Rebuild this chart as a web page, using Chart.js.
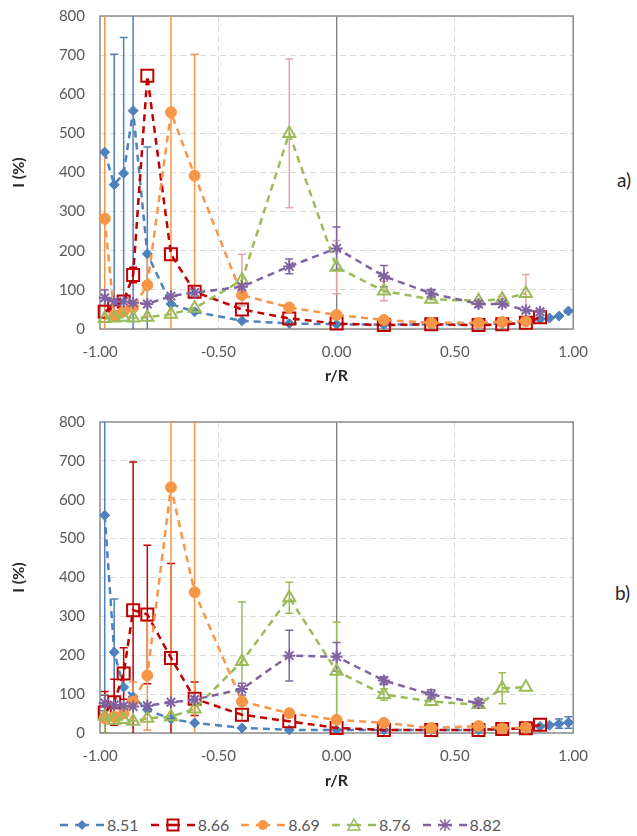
<!DOCTYPE html>
<html lang="en">
<head>
<meta charset="UTF-8">
<title>I (%) vs r/R</title>
<script src="https://cdn.jsdelivr.net/npm/chart.js"></script>
<style>
  body { margin: 0; width: 637px; height: 836px; background: #fff; position: relative; overflow: hidden; font-family: Lato, "Open Sans", sans-serif; }
  .box { position: absolute; left: 0; width: 590px; }
  .tag { position: absolute; font-size: 19px; color: #262626; }
  #legend { position: absolute; left: 60px; top: 815px; display: flex; align-items: center; font-size: 16px; color: #595959; }
  #legend .item { display: flex; align-items: center; margin-right: 12px; }
  #legend svg { margin-right: 3px; }
</style>
</head>
<body>
<div class="box" style="top:0;height:395px"><canvas id="chartA"></canvas></div>
<div class="box" style="top:400px;height:400px"><canvas id="chartB"></canvas></div>
<div class="tag" style="left:617px;top:168px">a)</div>
<div class="tag" style="left:615px;top:581px">b)</div>
<div id="legend"></div>

<script>
// radial positions, shared by all series
const xPos = [-0.98, -0.94, -0.9, -0.86, -0.8, -0.7, -0.6, -0.4, -0.2, 0, 0.2, 0.4, 0.6, 0.7, 0.8, 0.86, 0.9, 0.94, 0.98];
const seriesNames = ['8.51', '8.66', '8.69', '8.76', '8.82'];
const xTicks = [-1, -0.5, 0, 0.5, 1];
const yTicks = [0, 100, 200, 300, 400, 500, 600, 700, 800];

// panel a)
const a851 = [452, 369, 398, 558, 192, 64, 44, 21, 14, 12, 11, 12, 12, 14, 18, 25, 28, 33, 46];
const a866 = [44, 60, 70, 138, 647, 191, 95, 50, 27, 14, 10, 12, 10, 12, 16, 30, null, null, null];
const a869 = [282, 35, 45, 55, 112, 554, 392, 87, 55, 36, 23, 16, 16, 18, 20, null, null, null, null];
const a876 = [27, 28, 30, 28, 30, 38, 53, 125, 500, 158, 97, 76, 72, 76, 91, null, null, null, null];
const a882 = [80, 70, 70, 67, 64, 84, 93, 108, 160, 206, 135, 91, 64, 64, 48, 44, null, null, null];
// error bars (+/-), panel a)
const a851Err = [null, 333, 347, 600, 273, null, null, null, null, null, null, null, null, null, null, null, null, null, null];
const a866Err = [null, null, null, 20, null, null, null, null, null, null, null, null, null, null, null, null, null, null, null];
const a869Err = [600, null, null, null, 80, 600, 310, null, null, null, null, null, null, null, null, null, null, null, null];
const a876Err = [null, null, null, null, null, null, null, 66, 190, 68, 25, null, null, 8, 48, null, null, null, null];
const a882Err = [20, null, null, null, null, null, null, null, 19, 55, 27, 10, 8, null, null, null, null, null, null];

// panel b)
const b851 = [560, 208, 118, 93, 60, 36, 26, 13, 8, 8, 8, 8, 8, 10, 12, 17, 20, 24, 27];
const b866 = [53, 79, 153, 316, 305, 193, 88, 47, 30, 13, 8, 8, 8, 10, 12, 21, null, null, null];
const b869 = [38, 42, 50, 81, 148, 632, 362, 81, 51, 34, 26, 13, 18, 12, 14, null, null, null, null];
const b876 = [43, 33, 35, 30, 38, 42, 62, 184, 348, 159, 99, 81, 73, 115, 118, null, null, null, null];
const b882 = [77, 72, 70, 68, 70, 79, 86, 113, 199, 196, 135, 99, 77, null, null, null, null, null, null];
// error bars (+/-), panel b)
const b851Err = [600, 137, null, null, null, null, null, null, null, null, null, null, null, null, null, null, null, 12, 15];
const b866Err = [54, 59, 66, 381, 178, 243, 43, null, null, null, null, null, null, null, null, null, null, null, null];
const b869Err = [null, null, null, 50, 140, 600, 600, null, null, null, null, null, null, null, null, null, null, null, null];
const b876Err = [55, null, null, null, null, null, null, 153, 40, 126, 15, null, null, 40, null, null, null, null, null];
const b882Err = [20, null, null, null, null, null, null, 15, 65, 37, 10, 12, 12, null, null, null, null, null, null];

const seriesStyles = [
  { color: '#4f81bd', point: 'rectRot', radius: 5, fill: true },
  { color: '#c00000', point: 'rect', radius: 8.5, fill: false },
  { color: '#f79646', point: 'circle', radius: 5.5, fill: true },
  { color: '#9bbb59', point: 'triangle', radius: 7, fill: false },
  { color: '#8064a2', point: 'star', radius: 6, fill: false }
];
const errColorsA = ['#4f81bd', '#c00000', '#f79646', '#e6a3aa', '#8064a2'];
const errColorsB = ['#4f81bd', '#c00000', '#f79646', '#9bbb59', '#8064a2'];

Chart.defaults.font.family = 'Lato, "Open Sans", sans-serif';
Chart.defaults.color = '#595959';

function buildDatasets(values, errors, errColors) {
  return values.map((vals, s) => {
    const st = seriesStyles[s];
    return {
      label: seriesNames[s],
      data: xPos.map((x, i) => ({ x: x, y: vals[i], e: errors[s][i] })).filter(p => p.y !== null),
      borderColor: st.color,
      borderWidth: 2.5,
      borderDash: [7, 5],
      pointStyle: st.point,
      pointRadius: st.radius,
      pointBorderColor: st.color,
      pointBackgroundColor: st.fill ? st.color : 'rgba(255,255,255,0)',
      pointBorderWidth: st.fill ? 1 : 2,
      errColor: errColors[s],
      tension: 0,
      clip: false,
      order: 4 - s
    };
  });
}

// frame + error bars, drawn with the chart's own scales
const errorBars = {
  id: 'errorBars',
  beforeDatasetsDraw(chart) {
    const { ctx, chartArea: a, scales: { x, y } } = chart;
    ctx.save();
    ctx.strokeStyle = '#8c8c8c';
    ctx.lineWidth = 1.5;
    ctx.strokeRect(a.left, a.top, a.width, a.height);
    ctx.beginPath();
    ctx.rect(a.left, a.top, a.width, a.height);
    ctx.clip();
    chart.data.datasets.forEach(ds => {
      ctx.strokeStyle = ds.errColor;
      ctx.lineWidth = 1.5;
      ds.data.forEach(p => {
        if (p.e == null) return;
        const px = x.getPixelForValue(p.x);
        const top = y.getPixelForValue(p.y + p.e);
        const bot = y.getPixelForValue(Math.max(-50, p.y - p.e));
        ctx.beginPath();
        ctx.moveTo(px, top); ctx.lineTo(px, bot);
        ctx.moveTo(px - 4, top); ctx.lineTo(px + 4, top);
        ctx.moveTo(px - 4, bot); ctx.lineTo(px + 4, bot);
        ctx.stroke();
      });
    });
    ctx.restore();
  }
};

function makeChart(id, datasets, topPad, xHeight) {
  return new Chart(document.getElementById(id), {
    type: 'line',
    data: { datasets: datasets },
    options: {
      responsive: true,
      maintainAspectRatio: false,
      animation: false,
      layout: { autoPadding: false, padding: { top: topPad, right: 16, left: 0, bottom: 0 } },
      plugins: { legend: { display: false }, tooltip: { enabled: false } },
      scales: {
        x: {
          type: 'linear',
          min: -1, max: 1,
          afterBuildTicks: s => { s.ticks = xTicks.map(v => ({ value: v })); },
          afterFit: s => { s.height = xHeight; },
          ticks: { padding: 2, font: { size: 15 }, callback: v => v.toFixed(2) },
          grid: {
            drawTicks: true,
            tickLength: 12,
            tickColor: 'rgba(0,0,0,0)',
            color: c => (c.tick && c.tick.value === 0) ? '#7f7f7f' : '#d9d9d9',
            lineWidth: c => (c.tick && c.tick.value === 0) ? 1.3 : 1
          },
          border: { display: false, dash: c => (c.tick && c.tick.value === 0) ? [] : [6, 4] },
          title: { display: true, text: 'r/R', color: '#262626', font: { size: 16, weight: 'bold' }, padding: { top: 4, bottom: 10 } }
        },
        y: {
          min: 0, max: 800,
          afterBuildTicks: s => { s.ticks = yTicks.map(v => ({ value: v })); },
          afterFit: s => { s.width = 100; },
          ticks: { padding: 2, font: { size: 15 } },
          grid: { drawTicks: true, tickLength: 13, tickColor: 'rgba(0,0,0,0)', color: '#d9d9d9' },
          border: { display: false, dash: [6, 4] },
          title: { display: true, text: 'I (%)', color: '#262626', font: { size: 16, weight: 'bold' }, padding: { top: 9, bottom: 0 } }
        }
      }
    },
    plugins: [errorBars]
  });
}

makeChart('chartA', buildDatasets([a851, a866, a869, a876, a882], [a851Err, a866Err, a869Err, a876Err, a882Err], errColorsA), 16, 66);
makeChart('chartB', buildDatasets([b851, b866, b869, b876, b882], [b851Err, b866Err, b869Err, b876Err, b882Err], errColorsB), 22, 67);

// legend
function markerSvg(st) {
  const c = st.color, cx = 22, cy = 8;
  if (st.point === 'rectRot') return `<polygon points="${cx},${cy - 5} ${cx + 5},${cy} ${cx},${cy + 5} ${cx - 5},${cy}" fill="${c}"/>`;
  if (st.point === 'rect') return `<rect x="${cx - 5.5}" y="${cy - 5.5}" width="11" height="11" fill="none" stroke="${c}" stroke-width="2"/>`;
  if (st.point === 'circle') return `<circle cx="${cx}" cy="${cy}" r="5" fill="${c}"/>`;
  if (st.point === 'triangle') return `<polygon points="${cx},${cy - 6} ${cx + 6},${cy + 5} ${cx - 6},${cy + 5}" fill="none" stroke="${c}" stroke-width="1.5"/>`;
  return `<path d="M${cx - 5} ${cy - 5} L${cx + 5} ${cy + 5} M${cx + 5} ${cy - 5} L${cx - 5} ${cy + 5} M${cx} ${cy - 6} L${cx} ${cy + 6}" stroke="${c}" stroke-width="1.5"/>`;
}
const legend = document.getElementById('legend');
seriesNames.forEach((name, s) => {
  const st = seriesStyles[s];
  const item = document.createElement('div');
  item.className = 'item';
  item.innerHTML = `<svg width="44" height="16">` +
    `<path d="M0 8 H8 M15 8 H29 M36 8 H44" stroke="${st.color}" stroke-width="2.5"/>` +
    markerSvg(st) + `</svg><span>${name}</span>`;
  legend.appendChild(item);
});
</script>
</body>
</html>
